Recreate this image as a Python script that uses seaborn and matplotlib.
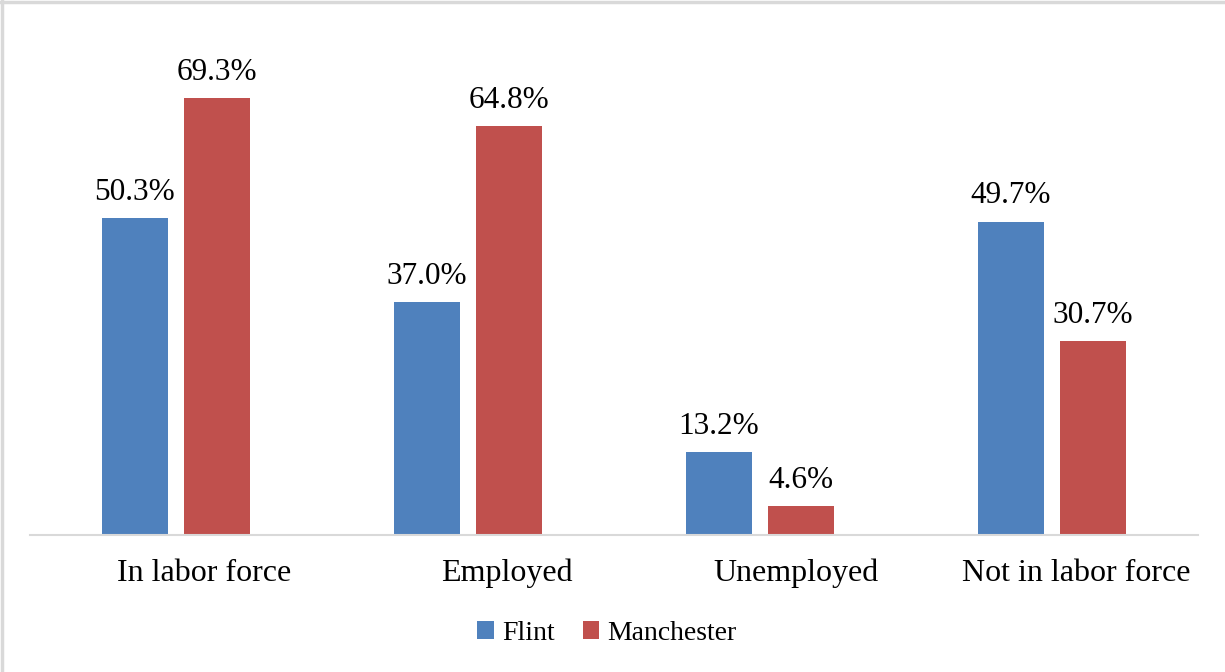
import matplotlib
matplotlib.use("Agg")
import matplotlib.pyplot as plt
from matplotlib.lines import Line2D
from matplotlib.patches import Patch
from matplotlib.transforms import ScaledTranslation
import seaborn as sns
import pandas as pd

categories = ["In labor force", "Employed", "Unemployed", "Not in labor force"]
flint = [50.3, 37.0, 13.2, 49.7]
manchester = [69.3, 64.8, 4.6, 30.7]
series_names = ["Flint", "Manchester"]
colors = ["#4F81BD", "#C0504D"]

# horizontal nudge (pixels) of each category label to the right of its group
label_shift_px = [28, 39, 36, 24]

df = pd.DataFrame({
    "category": categories * 2,
    "value": flint + manchester,
    "city": [series_names[0]] * len(categories) + [series_names[1]] * len(categories),
})

sns.set_theme(style="white")
plt.rcParams["font.family"] = ["Liberation Serif", "DejaVu Serif"]

fig = plt.figure(figsize=(12.25, 6.72), dpi=100)
ax = fig.add_axes([30 / 1225, 137 / 672, 1168 / 1225, 515 / 672])

sns.barplot(data=df, x="category", y="value", hue="city", order=categories,
            hue_order=series_names, palette=colors, width=0.562, gap=0.206,
            saturation=1, linewidth=0, ax=ax, legend=False)

ax.set_xlim(-0.5, 3.5)
ax.set_ylim(0, 515 / 6.306)

for container in ax.containers:
    ax.bar_label(container, labels=[f"{b.get_height():.1f}%" for b in container],
                 padding=8, fontsize=22.5, color="black")

for s in ["top", "right", "left"]:
    ax.spines[s].set_visible(False)
ax.spines["bottom"].set_color("#D9D9D9")
ax.spines["bottom"].set_linewidth(1.5)
ax.set_yticks([])
ax.set_xlabel("")
ax.set_ylabel("")
ax.tick_params(axis="x", length=0, pad=17, labelsize=23, labelcolor="black")

for lbl, dx in zip(ax.get_xticklabels(), label_shift_px):
    lbl.set_transform(lbl.get_transform() + ScaledTranslation(dx / 100, 0, fig.dpi_scale_trans))

handles = [Patch(facecolor=c, edgecolor="none") for c in colors]
fig.legend(handles, series_names, loc="center", bbox_to_anchor=(607 / 1225, 1 - 633 / 672),
           ncol=2, frameon=False, fontsize=20, handlelength=0.6, handleheight=0.6,
           handletextpad=0.3, columnspacing=1.0, labelcolor="black")

# thin frame on the left and top edges of the figure
fig.add_artist(Line2D([1.5 / 1225, 1.5 / 1225], [0, 1], color="#D9D9D9", lw=2.5,
                      transform=fig.transFigure))
fig.add_artist(Line2D([0, 1], [1 - 1.5 / 672, 1 - 1.5 / 672], color="#D9D9D9", lw=2.5,
                      transform=fig.transFigure))

fig.savefig("out.png", dpi=100, facecolor="white")
